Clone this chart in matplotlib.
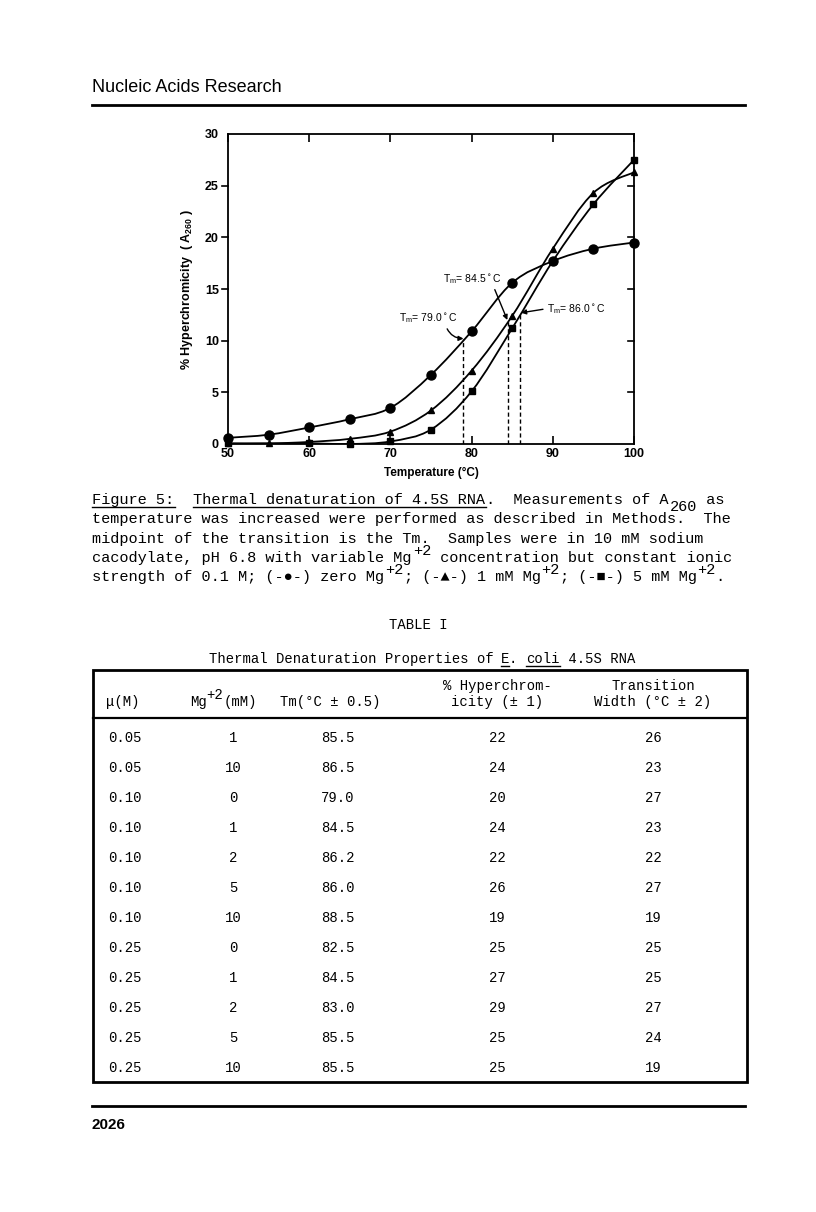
import numpy as np
import matplotlib
matplotlib.use('Agg')
import matplotlib.pyplot as plt
from matplotlib.path import Path
from matplotlib.patches import PathPatch

# ---- chart data ----
temp = [50, 55, 60, 65, 70, 75, 80, 85, 90, 95, 100]
zero_mg = [0.6, 0.9, 1.6, 2.4, 3.5, 6.7, 10.9, 15.6, 17.7, 18.9, 19.5]
one_mg = [0.05, 0.05, 0.2, 0.5, 1.2, 3.25, 7.1, 12.4, 18.9, 24.3, 26.3]
five_temp = [50, 60, 65, 70, 75, 80, 85, 90, 95, 100]
five_mg = [0.05, 0.05, 0.0, 0.25, 1.4, 5.1, 11.2, 17.7, 23.2, 27.5]
tm_x = [79.0, 84.5, 86.0]
tm_y = [10.2, 12.0, 12.6]
tm_labels = ['79.0', '84.5', '86.0']

# ---- table data ----
mu = ['0.05', '0.05', '0.10', '0.10', '0.10', '0.10', '0.10', '0.25', '0.25', '0.25', '0.25', '0.25']
mg = ['1', '10', '0', '1', '2', '5', '10', '0', '1', '2', '5', '10']
tm = ['85.5', '86.5', '79.0', '84.5', '86.2', '86.0', '88.5', '82.5', '84.5', '83.0', '85.5', '85.5']
hyper = ['22', '24', '20', '24', '22', '26', '19', '25', '27', '29', '25', '25']
width = ['26', '23', '27', '23', '22', '27', '19', '25', '25', '27', '24', '19']

W, H = 816, 1212
fig = plt.figure(figsize=(W / 100, H / 100), dpi=100)
page = fig.add_axes([0, 0, 1, 1])
page.set_xlim(0, W)
page.set_ylim(H, 0)
page.axis('off')

SANS = ['Liberation Sans', 'DejaVu Sans']
MONO = ['Liberation Mono', 'DejaVu Sans Mono']


def smooth_path(xs, ys):
    # Catmull-Rom curve through the points, as cubic bezier segments
    p = np.column_stack([xs, ys]).astype(float)
    verts = [p[0]]
    codes = [Path.MOVETO]
    n = len(p)
    for i in range(n - 1):
        p0 = p[i - 1] if i > 0 else p[i]
        p3 = p[i + 2] if i + 2 < n else p[i + 1]
        c1 = p[i] + (p[i + 1] - p0) / 6
        c2 = p[i + 1] - (p3 - p[i]) / 6
        verts += [c1, c2, p[i + 1]]
        codes += [Path.CURVE4] * 3
    return Path(verts, codes)


# ---- header / footer ----
page.text(92, 87, 'Nucleic Acids Research', family=SANS, fontsize=13,
          va='center', ha='left')
page.plot([92, 745], [105, 105], color='black', lw=2)
page.plot([92, 745], [1106, 1106], color='black', lw=2)
page.text(92, 1125, '2026', family=SANS, fontsize=11, weight='bold',
          va='center', ha='left')

# ---- chart ----
ax = fig.add_axes([228 / W, 1 - 444 / H, 406 / W, 310 / H])
ax.set_xlim(50, 100)
ax.set_ylim(0, 30)
for s in ax.spines.values():
    s.set_linewidth(1.3)

series = [(temp, zero_mg, 'o', 6.5), (temp, one_mg, '^', 5), (five_temp, five_mg, 's', 5)]
for xs, ys, mk, ms in series:
    ax.add_patch(PathPatch(smooth_path(xs, ys), fill=False, lw=1.3,
                           edgecolor='black', clip_on=True))
    ax.plot(xs, ys, linestyle='none', marker=mk, ms=ms, color='black', clip_on=False)

for x, y in zip(tm_x, tm_y):
    ax.plot([x, x], [0, y], linestyle=(0, (3, 2)), color='black', lw=1)

arrow = dict(arrowstyle='-|>', color='black', lw=1, mutation_scale=7, shrinkA=1, shrinkB=0)
ax.annotate('T$_\\mathregular{m}$= %s$^\\circ$C' % tm_labels[0], xy=(tm_x[0], tm_y[0]),
            xytext=(71.0, 12.2), fontsize=7.5, family=SANS, va='center',
            arrowprops=dict(arrow, connectionstyle='arc3,rad=0.35', relpos=(0.8, 0)))
ax.annotate('T$_\\mathregular{m}$= %s$^\\circ$C' % tm_labels[1], xy=(tm_x[1] - 0.1, tm_y[1]),
            xytext=(76.5, 16.0), fontsize=7.5, family=SANS, va='center',
            arrowprops=dict(arrow, relpos=(0.85, 0)))
ax.annotate('T$_\\mathregular{m}$= %s$^\\circ$C' % tm_labels[2], xy=(tm_x[2] + 0.1, tm_y[2] + 0.1),
            xytext=(89.3, 13.1), fontsize=7.5, family=SANS, va='center',
            arrowprops=dict(arrow, relpos=(0, 0.5)))

ax.set_xticks([50, 60, 70, 80, 90, 100])
ax.set_yticks([0, 5, 10, 15, 20, 25, 30])
ax.tick_params(axis='x', direction='in', top=True, length=6, width=1.2,
               labelsize=9, pad=3)
ax.tick_params(axis='y', which='both', left=False, right=False, labelsize=9, pad=3)
for t in ax.get_xticklabels() + ax.get_yticklabels():
    t.set_family(SANS)
    t.set_weight('bold')
# left ticks outward, right ticks inward
for y in [5, 10, 15, 20, 25]:
    ax.plot([-0.015, 0], [y, y], transform=ax.get_yaxis_transform(), color='black',
            lw=1.2, clip_on=False)
    ax.plot([0.985, 1], [y, y], transform=ax.get_yaxis_transform(), color='black',
            lw=1.2, clip_on=False)
ax.set_xlabel('Temperature (°C)', family=SANS, fontsize=8.5, weight='bold', labelpad=5)
ax.set_ylabel('% Hyperchromicity  ( A$_\\mathregular{260}$ )', family=SANS, fontsize=9,
              weight='bold', labelpad=7)

# ---- caption (typewriter text) ----
CAP = 11


def mono_line(x, y, parts, size=CAP):
    c = 0.6 * size * 100 / 72
    for txt, kind in parts:
        dy = {'sup': -7, 'sub': 7}.get(kind, 0)
        page.text(x, y + dy, txt, family=MONO, fontsize=size, va='center', ha='left')
        if kind == 'ul':
            page.plot([x, x + len(txt) * c], [y + 7, y + 7], color='black', lw=1)
        x += len(txt) * c


cap_x = 92
mono_line(cap_x, 500, [('Figure 5:', 'ul'), ('  ', 'n'), ('Thermal denaturation of 4.5S RNA', 'ul'),
                       ('.  Measurements of A', 'n'), ('260', 'sub'), (' as', 'n')])
mono_line(cap_x, 519, [('temperature was increased were performed as described in Methods.  The', 'n')])
mono_line(cap_x, 539, [('midpoint of the transition is the Tm.  Samples were in 10 mM sodium', 'n')])
mono_line(cap_x, 558, [('cacodylate, pH 6.8 with variable Mg', 'n'), ('+2', 'sup'),
                       (' concentration but constant ionic', 'n')])
mono_line(cap_x, 577, [('strength of 0.1 M; (-\u25cf-) zero Mg', 'n'), ('+2', 'sup'),
                       ('; (-\u25b2-) 1 mM Mg', 'n'), ('+2', 'sup'),
                       ('; (-\u25a0-) 5 mM Mg', 'n'), ('+2', 'sup'), ('.', 'n')])

# ---- table ----
TS = 10
tcw = 0.6 * TS * 100 / 72
page.text(418, 625, 'TABLE I', family=MONO, fontsize=TS, ha='center', va='center')
title = 'Thermal Denaturation Properties of E. coli 4.5S RNA'
tx = 422 - len(title) * tcw / 2
mono_line(tx, 659, [('Thermal Denaturation Properties of ', 'n'), ('E', 'ul'), ('. ', 'n'),
                    ('coli', 'ul'), (' 4.5S RNA', 'n')], size=TS)

page.add_patch(plt.Rectangle((93, 670), 747 - 93, 1082 - 670, fill=False, lw=2, edgecolor='black'))
page.plot([93, 747], [718, 718], color='black', lw=1.6)

page.text(106, 702, '\u03bc(M)', family=MONO, fontsize=TS, va='center', ha='left')
mono_line(190, 702, [('Mg', 'n')], size=TS)
mono_line(190 + 2 * tcw, 702, [('+2', 'sup')], size=TS)
mono_line(190 + 4 * tcw, 702, [('(mM)', 'n')], size=TS)
page.text(330, 702, 'Tm(°C \u00b1 0.5)', family=MONO, fontsize=TS, va='center', ha='center')
page.text(497, 686, '% Hyperchrom-', family=MONO, fontsize=TS, va='center', ha='center')
page.text(497, 702, 'icity (\u00b1 1)', family=MONO, fontsize=TS, va='center', ha='center')
page.text(653, 686, 'Transition', family=MONO, fontsize=TS, va='center', ha='center')
page.text(653, 702, 'Width (°C \u00b1 2)', family=MONO, fontsize=TS, va='center', ha='center')

row_y0, row_dy = 738, 30
for i in range(len(mu)):
    y = row_y0 + i * row_dy
    page.text(108, y, mu[i], family=MONO, fontsize=TS, va='center', ha='left')
    page.text(233, y, mg[i], family=MONO, fontsize=TS, va='center', ha='center')
    page.text(338, y, tm[i], family=MONO, fontsize=TS, va='center', ha='center')
    page.text(497, y, hyper[i], family=MONO, fontsize=TS, va='center', ha='center')
    page.text(653, y, width[i], family=MONO, fontsize=TS, va='center', ha='center')

fig.savefig('out.png', dpi=100)
